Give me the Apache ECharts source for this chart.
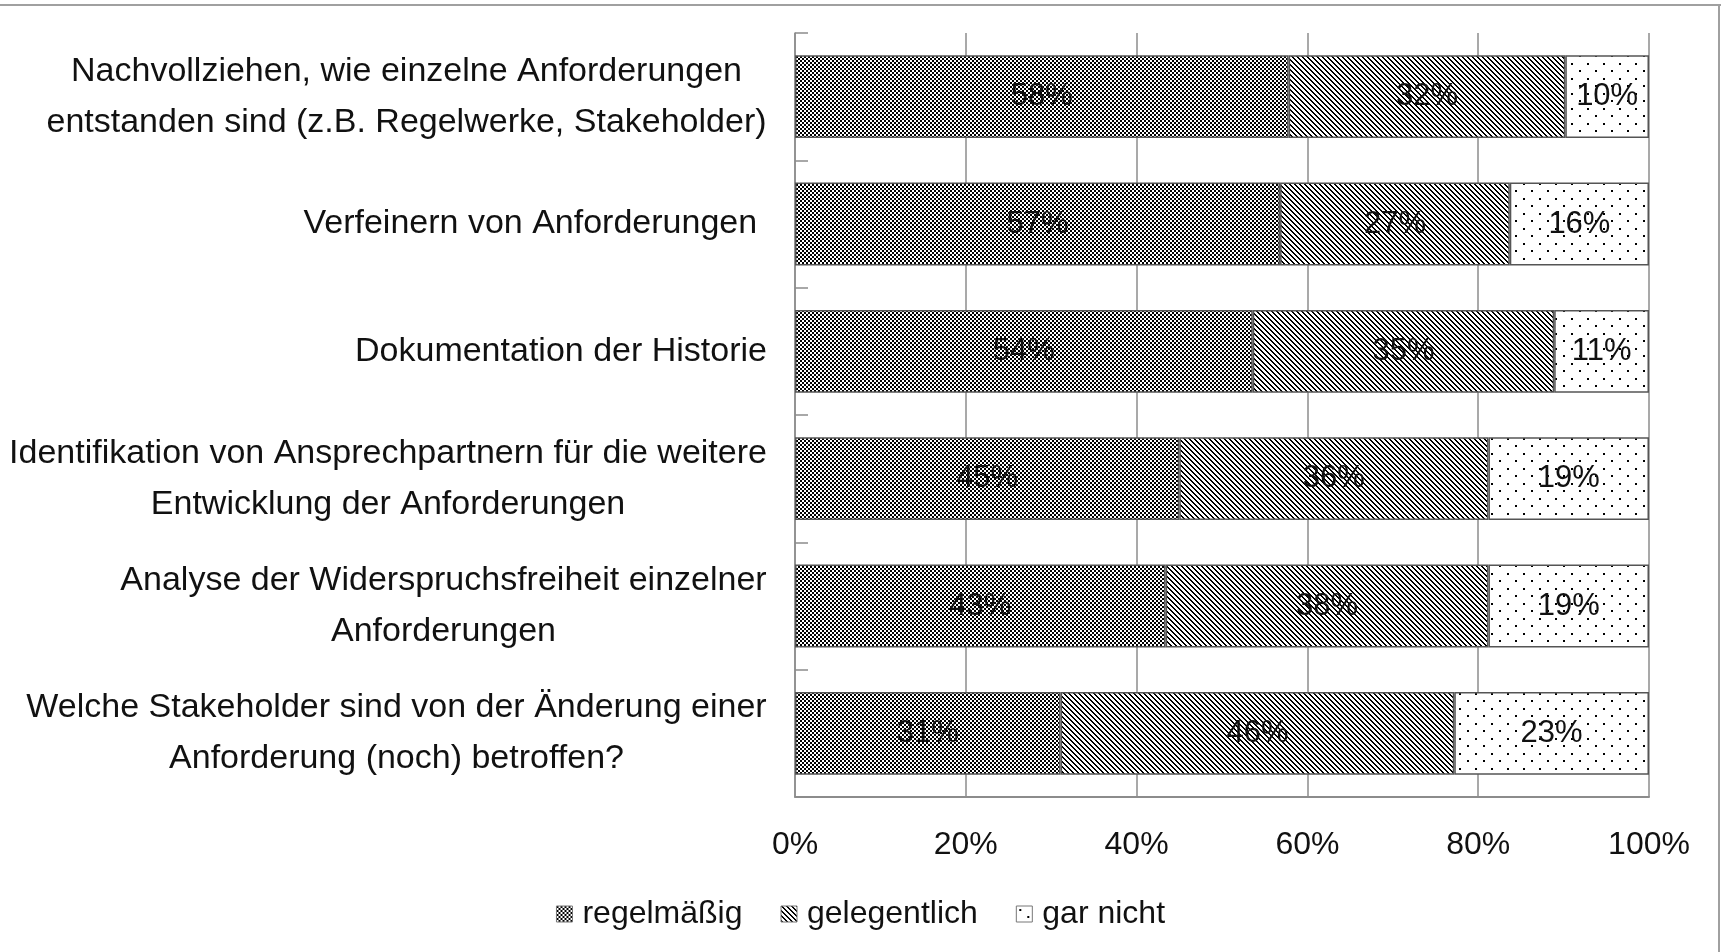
<!DOCTYPE html>
<html>
<head>
<meta charset="utf-8">
<script src="https://cdn.jsdelivr.net/npm/echarts@6/dist/echarts.min.js"></script>
<style>
  html, body { margin: 0; padding: 0; background: #fff; }
  #chart { width: 1721px; height: 952px; }
</style>
</head>
<body>
<div id="chart"></div>
<script>
const categories = [
  'Nachvollziehen, wie einzelne Anforderungen\nentstanden sind (z.B. Regelwerke, Stakeholder)',
  'Verfeinern von Anforderungen ',
  'Dokumentation der Historie',
  'Identifikation von Ansprechpartnern für die weitere\nEntwicklung der Anforderungen',
  'Analyse der Widerspruchsfreiheit einzelner\nAnforderungen',
  'Welche Stakeholder sind von der Änderung einer\nAnforderung (noch) betroffen?',
];
const seriesNames = ['regelmäßig', 'gelegentlich', 'gar nicht'];
const regelmaessig = [57.8, 56.8, 53.6, 45.0, 43.4, 31.1];
const gelegentlich = [32.4, 26.9, 35.3, 36.2, 37.8, 46.1];
const garNicht = [9.8, 16.3, 11.1, 18.8, 18.8, 22.8];
const xTicks = [0, 20, 40, 60, 80, 100];

const labelFont = 'Liberation Sans';
const catFontSize = 34;

// fill patterns like the old office hatch fills
const makePattern = (w, h, draw) => {
  const c = document.createElement('canvas');
  c.width = w;
  c.height = h;
  const ctx = c.getContext('2d');
  ctx.fillStyle = '#fff';
  ctx.fillRect(0, 0, w, h);
  ctx.fillStyle = '#000';
  draw(ctx);
  return {image: c, repeat: 'repeat'};
};
const checker = makePattern(4, 4, ctx => {
  ctx.fillRect(0, 0, 2, 2);
  ctx.fillRect(2, 2, 2, 2);
});
const diagonal = makePattern(5, 5, ctx => {
  for (let y = 0; y < 5; y++) {
    for (let x = 0; x < 5; x++) {
      const d = ((x - y) % 5 + 5) % 5;
      if (d === 0 || d === 1) ctx.fillRect(x, y, 1, 1);
    }
  }
});
const dots = makePattern(16, 15, ctx => {
  ctx.fillRect(3, 3, 2, 2);
  ctx.fillRect(11, 10, 2, 2);
});
const patterns = [checker, diagonal, dots];

// category labels: lines centred inside a right-aligned block
const measure = document.createElement('canvas').getContext('2d');
measure.font = catFontSize + 'px "' + labelFont + '"';
const rich = {};
categories.forEach((cat, i) => {
  const w = Math.max(...cat.split('\n').map(l => measure.measureText(l).width));
  rich['c' + i] = {
    width: Math.ceil(w) + 2,
    align: 'center',
    fontSize: catFontSize,
    fontFamily: labelFont,
    lineHeight: 51,
    color: '#111',
  };
});

const chart = echarts.init(document.getElementById('chart'));
const series = [regelmaessig, gelegentlich, garNicht].map((data, i) => ({
  name: seriesNames[i],
  type: 'bar',
  stack: 'total',
  data: data,
  barCategoryGap: '35%',
  itemStyle: {
    color: patterns[i],
    borderColor: '#555',
    borderWidth: 1.5,
  },
  label: {
    show: true,
    position: 'inside',
    fontFamily: labelFont,
    fontSize: 31,
    color: '#111',
    formatter: p => Math.round(p.value) + '%',
  },
}));

const option = {
  animation: false,
  backgroundColor: '#fff',
  grid: {left: 795, right: 72, top: 33, bottom: 155, outerBoundsMode: 'none'},
  xAxis: {
    type: 'value',
    min: xTicks[0],
    max: xTicks[xTicks.length - 1],
    interval: 20,
    axisLine: {show: true, lineStyle: {color: '#8c8c8c', width: 2}},
    axisTick: {show: false},
    splitLine: {show: true, lineStyle: {color: '#8c8c8c', width: 1.5}},
    axisLabel: {
      formatter: '{value}%',
      fontFamily: labelFont,
      fontSize: 32,
      color: '#111',
      margin: 32,
    },
  },
  yAxis: {
    type: 'category',
    inverse: true,
    data: categories,
    axisLine: {show: true, lineStyle: {color: '#8c8c8c', width: 1.5}},
    axisTick: {show: true, inside: true, length: 13, lineStyle: {color: '#8c8c8c', width: 1.5}},
    axisLabel: {
      margin: 27,
      formatter: (value, index) => value.split('\n').map(l => '{c' + index + '|' + l + '}').join('\n'),
      rich: rich,
    },
  },
  legend: {
    data: seriesNames,
    left: 'center',
    top: 893,
    itemWidth: 16,
    itemHeight: 16,
    itemGap: 38,
    icon: 'rect',
    itemStyle: {borderColor: '#777', borderWidth: 1},
    textStyle: {fontFamily: labelFont, fontSize: 32, color: '#111', padding: [0, 0, 0, 5]},
  },
  graphic: [
    {type: 'line', shape: {x1: 0, y1: 5, x2: 1721, y2: 5}, style: {stroke: '#a0a0a0', lineWidth: 2}},
    {type: 'line', shape: {x1: 1719, y1: 5, x2: 1719, y2: 952}, style: {stroke: '#a0a0a0', lineWidth: 2}},
  ],
  series: series,
};

chart.setOption(option);
</script>
</body>
</html>
